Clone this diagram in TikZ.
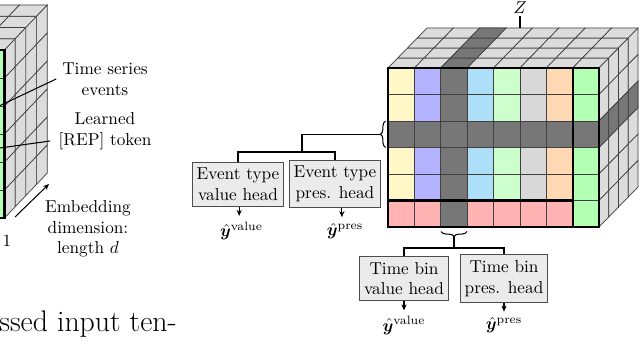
\documentclass[tikz,border=0pt]{standalone}
\usepackage{amsmath}
\usepackage{bm}
\usetikzlibrary{decorations.pathreplacing,arrows.meta,calc}
\definecolor{cellY}{HTML}{FFF8C6}
\definecolor{cellL}{HTML}{B3B3FF}
\definecolor{cellD}{HTML}{777777}
\definecolor{cellB}{HTML}{ADDFF8}
\definecolor{cellG}{HTML}{CCFFCC}
\definecolor{cellS}{HTML}{D9D9D9}
\definecolor{cellO}{HTML}{FFD9B3}
\definecolor{cellE}{HTML}{B3FFB3}
\definecolor{cellP}{HTML}{FFB3B3}
\definecolor{faceS}{HTML}{DCDCDC}
\definecolor{boxF}{HTML}{EBEBEB}
\begin{document}
\begin{tikzpicture}[x=0.58pt,y=-0.58pt,
  grid/.style={draw=black!75,line width=0.4pt},
  thickedge/.style={draw=black,line width=1.3pt},
  headbox/.style={draw=black!70,fill=boxF,line width=0.6pt,align=center,inner xsep=2.6pt,inner ysep=3.5pt},
  lbl/.style={align=center},
  conn/.style={draw=black,line width=0.6pt},
  outarr/.style={-{Stealth[length=3.5pt,width=3pt]},line width=0.6pt},
  brc/.style={decorate,decoration={brace,amplitude=3pt},line width=0.6pt}]
\useasboundingbox (0,0) rectangle (640,354);
\clip (0,0) rectangle (640,354);
\def\cw{26.375}
% ---------- left cube (cropped) ----------
\foreach \c in {0,1,2} \foreach \k in {0,...,3} {
  \filldraw[grid,fill=faceS] ({4.5-28*(\c+1)+10.7*\k},{50-11.25*\k}) -- ++(28,0) -- ++(10.7,-11.25) -- ++(-28,0) -- cycle;
}
\foreach \j in {0,...,5} \foreach \k in {0,...,3} {
  \filldraw[grid,fill=faceS] ({4.5+10.7*\k},{50+28*\j-11.25*\k}) -- ++(10.7,-11.25) -- ++(0,28) -- ++(-10.7,11.25) -- cycle;
}
\foreach \j in {0,...,5} {
  \filldraw[grid,fill=cellE] (-23.5,{50+28*\j}) rectangle ++(28,28);
}
\draw[thickedge] (-30,50) -- (4.5,50) -- (4.5,218) -- (-30,218);
% ---------- right cube ----------
\foreach \i in {0,...,7} \foreach \k in {0,...,3} {
  \filldraw[grid,fill=faceS] ({388+\cw*\i+9.75*\k},{68-10*\k}) -- ++(\cw,0) -- ++(9.75,-10) -- ++(-\cw,0) -- cycle;
}
\foreach \k in {0,...,3} {
  \filldraw[grid,fill=cellD] ({388+\cw*2+9.75*\k},{68-10*\k}) -- ++(\cw,0) -- ++(9.75,-10) -- ++(-\cw,0) -- cycle;
}
\foreach \j in {0,...,5} \foreach \k in {0,...,3} {
  \filldraw[grid,fill=faceS] ({599+9.75*\k},{68+26.5*\j-10*\k}) -- ++(9.75,-10) -- ++(0,26.5) -- ++(-9.75,10) -- cycle;
}
\foreach \k in {0,...,3} {
  \filldraw[grid,fill=cellD] ({599+9.75*\k},{68+26.5*2-10*\k}) -- ++(9.75,-10) -- ++(0,26.5) -- ++(-9.75,10) -- cycle;
}
\foreach \i/\cc in {0/cellY,1/cellL,2/cellD,3/cellB,4/cellG,5/cellS,6/cellO,7/cellE} {
  \foreach \j in {0,...,5} {
    \filldraw[grid,fill=\cc] ({388+\cw*\i},{68+26.5*\j}) rectangle ++(\cw,26.5);
  }
}
\foreach \i in {0,1,3,4,5,6} {
  \filldraw[grid,fill=cellP] ({388+\cw*\i},{68+26.5*5}) rectangle ++(\cw,26.5);
}
\foreach \i in {0,...,7} {
  \filldraw[grid,fill=cellD] ({388+\cw*\i},{68+26.5*2}) rectangle ++(\cw,26.5);
}
\draw[thickedge] (388,68) rectangle (599,227);
\draw[thickedge] ({388+7*\cw},68) -- ({388+7*\cw},227);
\draw[thickedge] (388,200.5) -- ({388+7*\cw},200.5);
% ---------- Z ----------
\node[inner sep=1pt] (z) at (520,8) {$Z$};
\coordinate (ztop) at (520,28);
\draw[conn] (z.south) -- (ztop);
% ---------- left labels ----------
\node[lbl] (ts) at (105,79) {Time series\\events};
\node[lbl] (rep) at (105,131.5) {Learned\\{}[REP] token};
\node[lbl] (emb) at (88,229) {Embedding\\dimension:\\length $d$};
\node (one) at (7,241) {1};
\coordinate (tsEnd) at (-10,110.3);
\coordinate (repEnd) at (-10,149.4);
\draw[conn] (ts.west) -- (tsEnd);
\draw[conn] ($(rep.west)+(-2.5,9.5)$) -- (repEnd);
\coordinate (ea) at (15,217);
\coordinate (eb) at (49,184);
\draw[outarr] (ea) -- (eb);
% ---------- braces ----------
\draw[brc] (385.5,147.5) -- (385.5,121);
\draw[brc] (467,231.5) -- (441,231.5);
\coordinate (lbt) at (380.3,134.25);
\coordinate (ej) at (302,152);
\coordinate (bbt) at (454,236.5);
\coordinate (tj) at (454,248);
% ---------- heads ----------
\node[headbox] (evv) at (238,184.5) {Event type\\value head};
\node[headbox] (evp) at (335,184) {Event type\\pres. head};
\node[headbox] (tbv) at (404,278.5) {Time bin\\value head};
\node[headbox] (tbp) at (504,278.5) {Time bin\\pres. head};
\draw[conn] (lbt) -| (ej);
\draw[conn] (evv.north) |- (ej) -| (evp.north);
\draw[conn] (bbt) -- (tj);
\draw[conn] (tbv.north) |- (tj) -| (tbp.north);
% ---------- outputs ----------
\node (o1) at (241.5,231) {$\hat{\bm{y}}^{\text{value}}$};
\node (o2) at (345,231) {$\hat{\bm{y}}^{\text{pres}}$};
\node (o3) at (404,325.5) {$\hat{\bm{y}}^{\text{value}}$};
\node (o4) at (504,325.5) {$\hat{\bm{y}}^{\text{pres}}$};
\draw[outarr] ([xshift=0.7pt]evv.south) -- ([xshift=0.7pt]evv.south |- o1.north);
\draw[outarr] ([xshift=4pt]evp.south) -- ([xshift=4pt]evp.south |- o2.north);
\draw[outarr] (tbv.south) -- (tbv.south |- o3.north);
\draw[outarr] (tbp.south) -- (tbp.south |- o4.north);
% ---------- caption fragment ----------
\node[anchor=base west,inner sep=0pt] (cap) at (-1,331) {\fontsize{17.28}{20}\selectfont ssed input ten-};
\end{tikzpicture}
\end{document}
